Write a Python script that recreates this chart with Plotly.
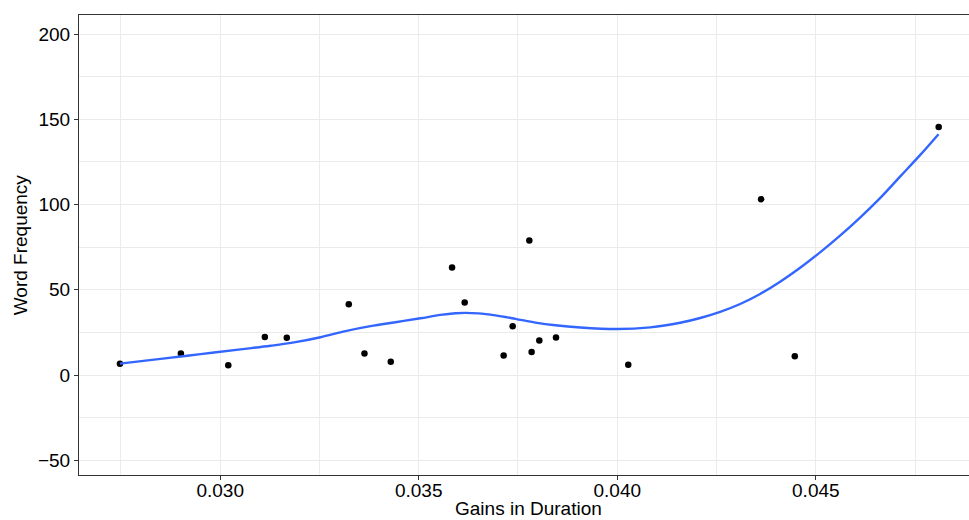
import plotly.graph_objects as go

# Observations: gains in duration vs. word frequency
gains = [0.027476, 0.029011, 0.030204, 0.031125, 0.031678, 0.033239, 0.033634,
         0.034296, 0.035840, 0.036158, 0.037139, 0.037366, 0.037786, 0.037844,
         0.038037, 0.038457, 0.040277, 0.043623, 0.044471, 0.048095]
freq = [6.6, 12.7, 5.7, 22.3, 21.9, 41.6, 12.7,
        7.8, 63.1, 42.6, 11.5, 28.7, 78.9, 13.5,
        20.3, 22.1, 6.0, 103.2, 11.1, 145.5]

# Smoothed trend (loess) sampled along the x range
smooth_x = [0.027476, 0.028500, 0.029507, 0.030513, 0.031268, 0.031897, 0.032526,
            0.033156, 0.033785, 0.034414, 0.035043, 0.035546, 0.035923, 0.036175,
            0.036502, 0.036930, 0.037433, 0.037937, 0.038440, 0.039069, 0.040000,
            0.040830, 0.041585, 0.042089, 0.042592, 0.043095, 0.043598, 0.044102,
            0.044605, 0.045108, 0.045611, 0.046115, 0.046618, 0.047121, 0.047625,
            0.048090]
smooth_y = [6.7, 9.5, 12.3, 15.1, 17.2, 19.3, 22.2,
            25.8, 28.7, 31.0, 33.3, 35.3, 36.3, 36.5,
            36.2, 35.0, 33.0, 30.8, 29.2, 27.9, 27.0,
            28.0, 30.7, 33.5, 37.1, 41.7, 47.6, 54.8,
            63.0, 72.0, 81.8, 92.4, 103.8, 116.4, 129.0,
            141.3]

x_ticks = [0.030, 0.035, 0.040, 0.045]
y_ticks = [-50, 0, 50, 100, 150, 200]

FONT = "Liberation Sans, Arial, Helvetica, sans-serif"
GRID = "#EBEBEB"
EDGE = "#333333"

fig = go.Figure()
fig.add_trace(go.Scatter(
    x=gains, y=freq, mode="markers",
    marker=dict(color="black", size=6.5, line=dict(width=0)),
    showlegend=False, hoverinfo="x+y",
))
fig.add_trace(go.Scatter(
    x=smooth_x, y=smooth_y, mode="lines",
    line=dict(color="#3366FF", width=2.4, shape="spline", smoothing=1.0),
    showlegend=False, hoverinfo="skip",
))

fig.update_xaxes(
    range=[0.026445, 0.048858],
    tickvals=x_ticks, tickformat=".3f",
    showgrid=True, gridcolor=GRID, gridwidth=1.1,
    minor=dict(showgrid=True, gridcolor=GRID, gridwidth=0.55,
               tick0=0.0275, dtick=0.005),
    zeroline=False,
    showline=True, linecolor=EDGE, linewidth=1, mirror=True,
    ticks="outside", ticklen=4, tickwidth=1, tickcolor=EDGE,
    ticklabelstandoff=-6,
    tickfont=dict(family=FONT, size=19, color="black"),
)
fig.update_yaxes(
    range=[-58.6, 211.2],
    tickvals=y_ticks,
    showgrid=True, gridcolor=GRID, gridwidth=1.1,
    minor=dict(showgrid=True, gridcolor=GRID, gridwidth=0.55,
               tick0=-25, dtick=50),
    zeroline=False,
    showline=True, linecolor=EDGE, linewidth=1, mirror=False,
    ticks="outside", ticklen=4, tickwidth=1, tickcolor=EDGE,
    tickfont=dict(family=FONT, size=19, color="black"),
)

fig.add_annotation(
    text="Gains in Duration", xref="paper", yref="paper",
    x=0.505, y=-0.072, xanchor="center", yanchor="middle",
    showarrow=False, font=dict(family=FONT, size=19, color="black"),
)
fig.add_annotation(
    text="Word Frequency", xref="paper", yref="paper",
    x=-0.066, y=0.5, xanchor="center", yanchor="middle", textangle=-90,
    showarrow=False, font=dict(family=FONT, size=19, color="black"),
)

fig.update_layout(
    width=969, height=520,
    margin=dict(l=79, r=0, t=15, b=45),
    paper_bgcolor="white", plot_bgcolor="white",
    font=dict(family=FONT, size=19, color="black"),
)

fig.write_html("out.html")
